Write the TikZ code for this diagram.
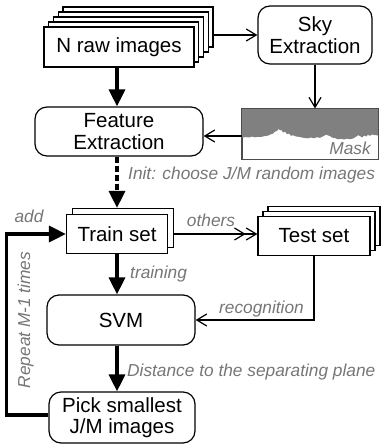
\documentclass[tikz,border=0pt]{standalone}
\usepackage{fontspec}
\setmainfont{Liberation Sans}
\usetikzlibrary{arrows.meta,shadows,calc}
\definecolor{lblgray}{RGB}{118,118,118}
\definecolor{maskgray}{RGB}{128,128,128}
\begin{document}
\begin{tikzpicture}[x=1pt,y=-1pt,
  box/.style={draw, line width=1.2pt, fill=white, inner sep=0pt, align=center,
     font=\fontsize{20.5}{21.5}\selectfont},
  rbox/.style={box, rounded corners=12pt},
  lay/.style 2 args={copy shadow={shadow xshift=#1, shadow yshift=#2, draw=black, fill=white, line width=1.2pt, opacity=1}},
  lbl/.style={font=\fontsize{17.3}{19}\selectfont\itshape, text=lblgray, inner sep=0pt},
  thinarrow/.style={line width=1.2pt, -{Straight Barb[length=10pt,width=12pt]}},
  dblarrow/.style={line width=1.2pt, -{Straight Barb[length=10pt,width=12pt] Straight Barb[length=10pt,width=12pt]}},
  thickarrow/.style={line width=3.2pt, -{Triangle[length=17pt,width=16pt]}}
]
\useasboundingbox (0,0) rectangle (383,444);

% spine for vertical arrows
\coordinate (spine) at (117,0);

% nodes
\node[box, minimum width=150pt, minimum height=40pt,
  lay={19pt}{20pt}, lay={14.25pt}{15pt}, lay={9.5pt}{10pt}, lay={4.75pt}{5pt}]
  (raw) at (119,47) {N raw images};
\node[rbox, minimum width=114pt, minimum height=58pt] (sky) at (315,35) {Sky\\Extraction};
\node[rbox, minimum width=168pt, minimum height=49pt] (feat) at (119,131.5) {Feature\\Extraction};

% mask
\node[draw=black!70, line width=1pt, minimum width=136pt, minimum height=50pt, inner sep=0pt] (mask) at (310,134) {};
\fill[maskgray] (mask.north west) -- (mask.north east) -- plot coordinates {
 (378,135.5) (375,135) (372,134.5) (370,135.8) (368,134.8) (366,136.5) (364,135.5)
 (362,137.5) (360,136) (358,135.2) (356,136.8) (353,138.5) (350,139.2) (347,138.6)
 (344,139.5) (341,138.8) (338,139.3) (335,138) (332,137.6) (330,136) (328,135.5)
 (326,134.6) (324,135.8) (322,136.8) (320,137.8) (317,137.2) (314,138.2) (311,137.5)
 (308,138.3) (305,138) (302,137.5) (299,136.8) (296,136.5) (293,135.2) (291,135.8)
 (289,133.5) (287,134.2) (285,131.5) (283,132.5) (281,129.5) (280,130.5) (278.5,128.8)
 (277,131) (275,131.5) (273,133.5) (271,134.2) (269,135.2) (267,135.8) (264,136.2)
 (261,137) (258,136.8) (255,137.3) (252,136.6) (249,137.4) (246,137.1) (243,137.5) (242,137.5)} -- cycle;
\draw[black!70, line width=1pt] (mask.north west) rectangle (mask.south east);
\node[lbl, anchor=base] (masklbl) at (350,154) {Mask};

\node[box, minimum width=101pt, minimum height=39pt, lay={6pt}{6pt}] (train) at (117,234) {Train set};
\node[box, minimum width=112pt, minimum height=39pt, lay={10pt}{10pt}, lay={5pt}{5pt}] (test) at (314,236) {Test set};
\node[rbox, minimum width=148pt, minimum height=50pt] (svm) at (121,320) {SVM};
\node[rbox, minimum width=146pt, minimum height=51pt] (pick) at (122,417.5) {Pick smallest\\J/M images};

% connectors
\draw[thinarrow] ($(raw.east)+(19,-12)$) -- (sky.west);
\draw[thinarrow] (sky.south) -- (sky.south |- mask.north);
\draw[thinarrow] ($(mask.west)+(0,2)$) -- ($(mask.west -| feat.east)+(0,2)$);
\draw[thickarrow] (raw.south -| spine) -- (feat.north -| spine);
\draw[thickarrow, dash pattern=on 6pt off 3pt] (feat.south -| spine) -- ($(train.north -| spine)+(0,-6)$);
\draw[dblarrow] ($(train.east)+(6,0)$) -- (train.east -| test.west);
\draw[thickarrow] (train.south -| spine) -- (svm.north -| spine);
\draw[thinarrow] (test.south) |- (svm.east);
\draw[thickarrow] (svm.south -| spine) -- (pick.north -| spine);
\draw[thickarrow] ($(pick.west)+(0,-2.5)$) -- ++(-42,0) |- (train.west);

% labels
\node[lbl, anchor=base west] (linit) at (128,179) {Init: choose J/M random images};
\node[lbl, anchor=base] (lothers) at (211,226.5) {others};
\node[lbl, anchor=base] (ladd) at (29,222.5) {add};
\node[lbl, anchor=base west] (ltrain) at (130,278) {training};
\node[lbl, anchor=base] (lrec) at (261.5,313) {recognition};
\node[lbl, anchor=base west] (ldist) at (127,376) {Distance to the separating plane};
\node[lbl, anchor=base, rotate=90] (lrep) at (30,320) {Repeat M-1 times};
\end{tikzpicture}
\end{document}
